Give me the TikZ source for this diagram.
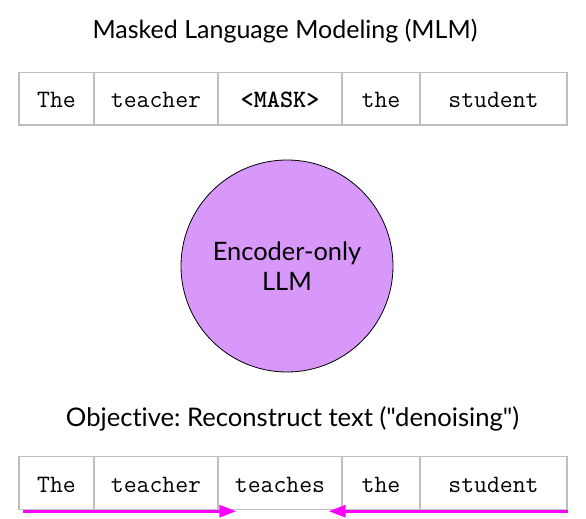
\documentclass[tikz,border=0pt]{standalone}
\usepackage{fontspec}
\newfontfamily\lato{Lato}[Ligatures=NoCommon]
\usetikzlibrary{arrows.meta}
\frenchspacing
\definecolor{cellgray}{RGB}{190,190,190}
\definecolor{llmfill}{RGB}{216,152,250}
\definecolor{arrmag}{RGB}{255,0,255}
\tikzset{
  cell/.style={draw=cellgray, line width=1.3pt, minimum height=52.5pt, inner sep=0pt,
    text height=18pt, text depth=0pt, font=\fontsize{25pt}{26pt}\selectfont\ttfamily},
  title/.style={anchor=base, inner sep=0pt, font=\fontsize{25pt}{30pt}\selectfont\lato},
  llm/.style={circle, draw=black, line width=0.8pt, fill=llmfill, minimum size=212pt,
    inner sep=0pt, align=center, font=\fontsize{25.4pt}{30pt}\selectfont\lato},
  predarrow/.style={draw=arrmag, line width=3pt, -{Triangle[length=17pt,width=12pt]}}
}
\begin{document}
\begin{tikzpicture}[x=1pt,y=-1pt]
\useasboundingbox (0,0) rectangle (586,519);
\node[title] (t) at (285,38) {Masked Language Modeling (MLM)};
\node[cell, minimum width=75pt]  (a1) at (56.5,98.75) {The};
\node[cell, minimum width=124pt] (a2) at (156,98.75) {teacher};
\node[cell, minimum width=124pt] (a3) at (280,98.75) {\bfseries <MASK>};
\node[cell, minimum width=78pt]  (a4) at (381,98.75) {the};
\node[cell, minimum width=147pt] (a5) at (493.5,98.75) {student};
\node[llm] (m) at (287,266) {Encoder-only\\LLM};
\node[title, font=\fontsize{25.6pt}{30pt}\selectfont\lato] (o) at (292.5,426.7) {Objective: Reconstruct text ("denoising")};
\node[cell, minimum width=75pt]  (b1) at (56.5,483) {The};
\node[cell, minimum width=124pt] (b2) at (156,483) {teacher};
\node[cell, minimum width=124pt] (b3) at (280,483) {teaches};
\node[cell, minimum width=78pt]  (b4) at (381,483) {the};
\node[cell, minimum width=147pt] (b5) at (493.5,483) {student};
\coordinate (ls) at ([xshift=5pt,yshift=-1.3pt]b1.south west);
\coordinate (lt) at ([xshift=19pt,yshift=-1.3pt]b3.south west);
\coordinate (rs) at ([yshift=-1.3pt]b5.south east);
\coordinate (rt) at ([xshift=-14pt,yshift=-1.3pt]b3.south east);
\draw[predarrow] (ls) -- (lt);
\draw[predarrow] (rs) -- (rt);
\end{tikzpicture}
\end{document}
